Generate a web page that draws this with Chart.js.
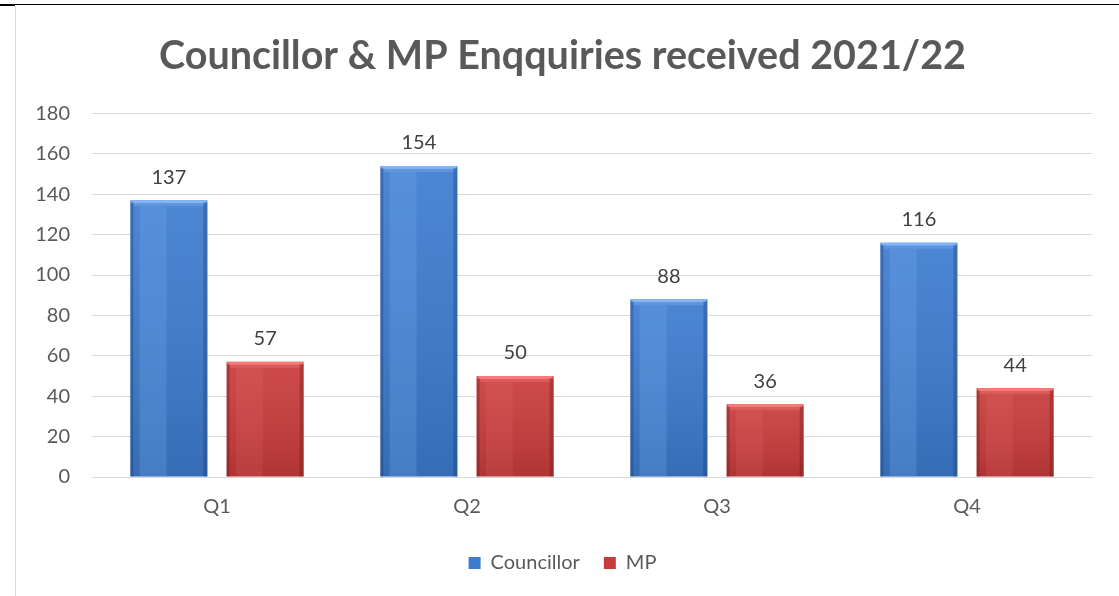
<!DOCTYPE html>
<html>
<head>
<meta charset="utf-8">
<script src="https://cdn.jsdelivr.net/npm/chart.js"></script>
<style>
  html, body { margin: 0; padding: 0; background: #fff; }
  #frame {
    position: absolute; left: 0; top: 4px; width: 1119px; height: 592px;
    border-top: 1px solid #000;
  }
  #frame:before {
    content: ""; position: absolute; left: 0; top: -1px; width: 15px; height: 2px; background: #000;
  }
  #box {
    position: absolute; left: 15px; top: 1px; width: 1104px; height: 591px;
    border-left: 1px solid #d9d9d9;
  }
</style>
</head>
<body>
<div id="frame">
  <div id="box"><canvas id="enquiriesChart" width="1103" height="591"></canvas></div>
</div>
<script>
const quarters = ["Q1", "Q2", "Q3", "Q4"];
const councillorValues = [137, 154, 88, 116];
const mpValues = [57, 50, 36, 44];
const yTicks = [0, 20, 40, 60, 80, 100, 120, 140, 160, 180];

const FONT = "Lato, 'Open Sans', sans-serif";
const TEXT = "#595959";

// shading for the bars: a lighter lip along the top and darker edges
const bevelPlugin = {
  id: "bevel",
  afterDatasetsDraw(chart) {
    const ctx = chart.ctx;
    const tones = [
      { light: "rgba(140,190,250,0.85)", dark: "rgba(20,50,110,0.3)", edge: "rgba(110,160,230,0.6)", stripe: "rgba(120,175,240,0.25)" },
      { light: "rgba(255,130,130,0.85)", dark: "rgba(100,15,15,0.3)", edge: "rgba(230,110,110,0.5)", stripe: "rgba(240,120,120,0.15)" }
    ];
    chart.data.datasets.forEach((ds, di) => {
      const t = tones[di];
      chart.getDatasetMeta(di).data.forEach(bar => {
        const left = bar.x - bar.width / 2;
        const w = bar.width;
        const h = bar.base - bar.y;
        ctx.save();
        // vertical fade, darker near the base
        const g = ctx.createLinearGradient(0, bar.y, 0, bar.base);
        g.addColorStop(0, "rgba(255,255,255,0.08)");
        g.addColorStop(1, "rgba(0,0,0,0.12)");
        ctx.fillStyle = g;
        ctx.fillRect(left, bar.y, w, h);
        // soft light stripe left of centre
        ctx.fillStyle = t.stripe;
        ctx.fillRect(left + w * 0.12, bar.y + 6, w * 0.35, h - 6);
        // top lip
        ctx.fillStyle = t.light;
        ctx.fillRect(left + 1, bar.y, w - 2, 3);
        ctx.fillStyle = t.edge;
        ctx.fillRect(left + 3, bar.y + 3, w - 6, 3);
        // side edges
        ctx.fillStyle = t.dark;
        ctx.fillRect(left + w - 4, bar.y + 2, 4, h - 2);
        ctx.fillRect(left, bar.y + 2, 3, h - 2);
        ctx.restore();
      });
    });
  }
};

// value labels above each bar
const valueLabels = {
  id: "valueLabels",
  afterDatasetsDraw(chart) {
    const ctx = chart.ctx;
    ctx.save();
    ctx.font = "20px " + FONT;
    ctx.fillStyle = "#404040";
    ctx.textAlign = "center";
    ctx.textBaseline = "bottom";
    chart.data.datasets.forEach((ds, di) => {
      chart.getDatasetMeta(di).data.forEach((bar, i) => {
        ctx.fillText(String(ds.data[i]), bar.x, bar.y - 13);
      });
    });
    ctx.restore();
  }
};

new Chart(document.getElementById("enquiriesChart"), {
  type: "bar",
  data: {
    labels: quarters,
    datasets: [
      { label: "Councillor", data: councillorValues, backgroundColor: "#3d7bcf" },
      { label: "MP", data: mpValues, backgroundColor: "#c93b3b" }
    ]
  },
  options: {
    responsive: false,
    animation: false,
    categoryPercentage: 0.77,
    barPercentage: 0.8,
    layout: { padding: { left: 17, right: 27, top: 27, bottom: 14 } },
    plugins: {
      title: {
        display: true,
        text: "Councillor & MP Enqquiries received 2021/22",
        color: TEXT,
        font: { family: FONT, size: 39.5, weight: "bold" },
        padding: { top: 0, bottom: 33 }
      },
      legend: {
        position: "bottom",
        labels: {
          color: TEXT,
          font: { family: FONT, size: 20 },
          boxWidth: 12,
          boxHeight: 12,
          padding: 24
        }
      },
      tooltip: { enabled: false }
    },
    scales: {
      x: {
        grid: { display: false },
        border: { color: "#d9d9d9" },
        ticks: { color: TEXT, font: { family: FONT, size: 20 }, padding: 10 }
      },
      y: {
        min: 0,
        max: 180,
        afterBuildTicks(axis) { axis.ticks = yTicks.map(v => ({ value: v })); },
        afterFit(axis) { axis.width = 59; },
        border: { display: false },
        grid: { color: "#d9d9d9", tickLength: 0 },
        ticks: { color: TEXT, font: { family: FONT, size: 20 }, padding: 22 }
      }
    }
  },
  plugins: [bevelPlugin, valueLabels]
});
</script>
</body>
</html>
